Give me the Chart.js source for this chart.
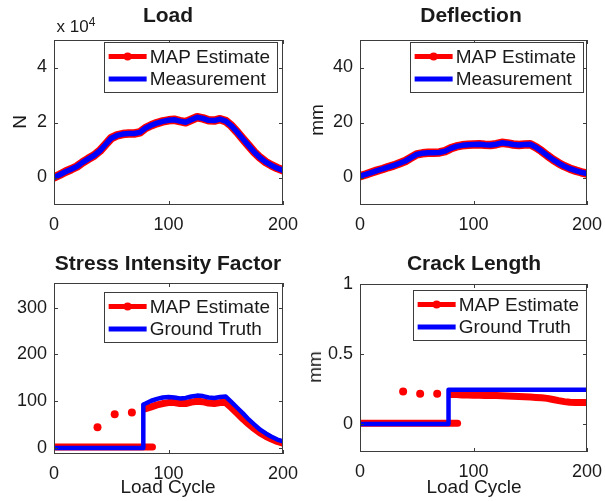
<!DOCTYPE html>
<html>
<head>
<meta charset="utf-8">
<script src="https://cdn.jsdelivr.net/npm/chart.js@4.4.1/dist/chart.umd.min.js"></script>
<style>
  body { margin: 0; background: #fff; }
  #wrap { position: relative; width: 605px; height: 501px; overflow: hidden;
          font-family: Arial, "Liberation Sans", sans-serif; color: #1a1a1a; }
  canvas { position: absolute; }
  .txt { position: absolute; transform: translate(-50%, -50%); white-space: nowrap; }
  .title { font-weight: bold; font-size: 21px; }
  .lab { font-size: 19px; }
  .rot { transform: translate(-50%, -50%) rotate(-90deg); }
</style>
</head>
<body>
<div id="wrap">
  <canvas id="cLoad" width="302" height="250" style="left:0;top:0"></canvas>
  <canvas id="cDefl" width="303" height="250" style="left:302px;top:0"></canvas>
  <canvas id="cSif" width="302" height="251" style="left:0;top:250px"></canvas>
  <canvas id="cCrack" width="303" height="251" style="left:302px;top:250px"></canvas>

  <div class="txt title" style="left:168px;top:15px">Load</div>
  <div class="txt title" style="left:471px;top:15px">Deflection</div>
  <div class="txt title" style="left:168px;top:263px">Stress Intensity Factor</div>
  <div class="txt title" style="left:474px;top:263px">Crack Length</div>

  <div class="txt lab rot" style="left:20px;top:122px">N</div>
  <div class="txt lab rot" style="left:317px;top:120px">mm</div>
  <div class="txt lab rot" style="left:315px;top:367px">mm</div>

  <div class="txt lab" style="left:168px;top:487px">Load Cycle</div>
  <div class="txt lab" style="left:474px;top:487px">Load Cycle</div>

  <div class="txt" style="left:76px;top:26px;font-size:17px">x 10<sup style="font-size:12px">4</sup></div>
</div>

<script>
// ================= DATA =================
const cycles = [0, 5, 10, 15, 20, 25, 30, 35, 40, 45, 50, 55, 60, 65, 70, 75, 80, 85, 90, 95, 100,
  105, 110, 115, 120, 125, 130, 135, 140, 145, 150, 155, 160, 165, 170, 175, 180, 185, 190, 195, 200];

// load in N
const loadMap = [0, 1000, 2100, 3000, 4000, 5500, 6800, 8000, 9700, 12000, 14300, 15300, 15800, 16000,
  16000, 16400, 18000, 19000, 19800, 20400, 20800, 21000, 20500, 20100, 21000, 21900, 21500, 20800,
  20700, 21200, 20500, 18800, 16500, 14000, 11600, 9200, 7200, 5600, 4400, 3400, 2600];
const loadMeasured = [0, 1000, 2100, 3000, 4000, 5500, 6800, 8000, 9700, 12000, 14300, 15300, 15800, 16000,
  16000, 16400, 18000, 19000, 19800, 20400, 20800, 21000, 20500, 20100, 21000, 21900, 21500, 20800,
  20700, 21200, 20500, 18800, 16500, 14000, 11600, 9200, 7200, 5600, 4400, 3400, 2600];

// deflection in mm
const deflMap = [0.5, 1.1, 1.8, 2.5, 3.1, 3.8, 4.4, 5.2, 6.0, 7.2, 8.4, 8.8, 9.0, 9.0, 9.1, 9.6, 10.6,
  11.3, 11.7, 11.9, 12.0, 12.1, 11.9, 11.8, 12.1, 12.6, 12.4, 12.0, 11.8, 12.0, 12.1, 11.0, 9.6, 8.0,
  6.5, 5.2, 4.1, 3.2, 2.5, 1.9, 1.4];
const deflMeasured = [0.5, 1.1, 1.8, 2.5, 3.1, 3.8, 4.4, 5.2, 6.0, 7.2, 8.4, 8.8, 9.0, 9.0, 9.1, 9.6, 10.6,
  11.3, 11.7, 11.9, 12.0, 12.1, 11.9, 11.8, 12.1, 12.6, 12.4, 12.0, 11.8, 12.0, 12.1, 11.0, 9.6, 8.0,
  6.5, 5.2, 4.1, 3.2, 2.5, 1.9, 1.4];

// after crack initiation
const lateCycles = [80, 85, 90, 95, 100, 105, 110, 115, 120, 125, 130, 135, 140, 145, 150, 155, 160,
  165, 170, 175, 180, 185, 190, 195, 200];

const sifTruthCycles = [0, 78, 78].concat(lateCycles);
const sifTruth = [0, 0, 93, 95, 101, 105, 108, 109, 108, 106, 107, 110, 112, 111, 108, 107, 109, 110,
  98, 86, 74, 61, 50, 39, 31, 24, 18, 14];
const sifMap = [84, 88, 92, 95, 97, 97, 95, 95, 98, 100, 99, 96, 95, 97, 97, 86, 74, 62, 51, 41, 32,
  25, 19, 14, 10];

const crackTruthCycles = [0, 78, 78, 200];
const crackTruth = [0, 0, 0.245, 0.245];
const crackMap = [0.21, 0.21, 0.208, 0.207, 0.206, 0.205, 0.204, 0.204, 0.203, 0.202, 0.2, 0.198,
  0.196, 0.194, 0.192, 0.19, 0.187, 0.183, 0.175, 0.167, 0.16, 0.155, 0.153, 0.153, 0.153];

// MAP estimate before initiation: flat zero branch + a few jumps
const mapZeroCycles = [0, 86];
const sifMapZero = [2, 2];
const crackMapZero = [0.005, 0.005];
const outlierCycles = [38, 53, 68];
const sifOutliers = [44, 72, 76];
const crackOutliers = [0.232, 0.216, 0.216];

const xTicks = [0, 100, 200];

const RED = "#ff0000";
const BLUE = "#0000ff";
const FONT = 'Arial, "Liberation Sans", sans-serif';

// ================= UTIL =================
function pts(xs, ys) {
  return xs.map((x, i) => ({ x, y: ys[i] }));
}

function line(data, color, width, order) {
  return {
    data, borderColor: color, backgroundColor: color, borderWidth: width,
    pointRadius: 0, borderCapStyle: "round", borderJoinStyle: "round", tension: 0, order
  };
}

function dots(data, color) {
  return {
    data, showLine: false, pointRadius: 4, pointBorderWidth: 0,
    pointBackgroundColor: color, borderColor: color, backgroundColor: color, order: 3
  };
}

// axes box, inward ticks and boxed legend, the matlab way
const matlabAxes = {
  id: "matlabAxes",
  afterDatasetsDraw(chart, args, opt) {
    const { ctx, chartArea: a, scales: { x, y } } = chart;
    ctx.save();
    ctx.strokeStyle = "#3c3c3c";
    ctx.lineWidth = 1;
    ctx.strokeRect(a.left + 0.5, a.top + 0.5, a.width - 1, a.height - 1);

    const T = 4;
    ctx.beginPath();
    x.ticks.forEach(t => {
      const px = Math.round(x.getPixelForValue(t.value)) + 0.5;
      ctx.moveTo(px, a.bottom); ctx.lineTo(px, a.bottom - T);
      ctx.moveTo(px, a.top); ctx.lineTo(px, a.top + T);
    });
    y.ticks.forEach(t => {
      const py = Math.round(y.getPixelForValue(t.value)) + 0.5;
      ctx.moveTo(a.left, py); ctx.lineTo(a.left + T, py);
      ctx.moveTo(a.right, py); ctx.lineTo(a.right - T, py);
    });
    ctx.stroke();

    // legend
    ctx.font = "19px " + FONT;
    const items = opt.items;
    const tw = Math.max(...items.map(i => ctx.measureText(i.label).width));
    const w = 45 + tw + 8;
    const h = 50;
    const left = a.right - opt.right - w;
    const top = a.top + opt.top;
    ctx.fillStyle = "#fff";
    ctx.fillRect(left, top, w, h);
    ctx.strokeRect(Math.round(left) + 0.5, top + 0.5, Math.round(w), h);

    items.forEach((it, i) => {
      const cy = top + 14.5 + i * 22.5;
      ctx.strokeStyle = it.color;
      ctx.lineWidth = 5;
      ctx.beginPath();
      ctx.moveTo(left + 5, cy); ctx.lineTo(left + 43, cy);
      ctx.stroke();
      if (it.marker) {
        ctx.fillStyle = it.color;
        ctx.beginPath();
        ctx.arc(left + 24, cy, 4, 0, Math.PI * 2);
        ctx.fill();
      }
      ctx.fillStyle = "#1a1a1a";
      ctx.textBaseline = "middle";
      ctx.fillText(it.label, left + 46, cy + 1);
    });
    ctx.restore();
  }
};

function makeChart(id, cfg) {
  const ctx = document.getElementById(id).getContext("2d");
  return new Chart(ctx, {
    type: "line",
    data: { datasets: cfg.datasets },
    options: {
      responsive: false,
      animation: false,
      events: [],
      layout: { padding: { left: 0, right: cfg.right, top: cfg.top, bottom: 0 } },
      plugins: {
        legend: { display: false },
        tooltip: { enabled: false },
        matlabAxes: { items: cfg.legend, top: cfg.legendTop, right: cfg.legendRight }
      },
      scales: {
        x: {
          type: "linear", min: 0, max: 200,
          // tickLength only pushes the labels down, the grid itself is not drawn
          grid: { display: false, drawTicks: true, tickLength: 9 }, border: { display: false },
          afterBuildTicks: s => { s.ticks = xTicks.map(v => ({ value: v })); },
          afterFit: s => { s.height = cfg.xHeight; },
          ticks: { padding: 0, color: "#1a1a1a", font: { size: 18, family: FONT }, maxRotation: 0 }
        },
        y: {
          type: "linear", min: cfg.yMin, max: cfg.yMax,
          grid: { display: false, drawTicks: false }, border: { display: false },
          afterBuildTicks: s => { s.ticks = cfg.yTicks.map(v => ({ value: v })); },
          afterFit: s => { s.width = cfg.yWidth; },
          ticks: { padding: 7, color: "#1a1a1a", font: { size: 18, family: FONT }, callback: cfg.fmt }
        }
      }
    },
    plugins: [matlabAxes]
  });
}

// ================= CHARTS =================
makeChart("cLoad", {
  yMin: -10000, yMax: 50000, yTicks: [0, 20000, 40000], fmt: v => String(v / 10000),
  yWidth: 54, right: 19, top: 40, xHeight: 45, legendTop: 2, legendRight: 6,
  legend: [{ label: "MAP Estimate", color: RED, marker: true }, { label: "Measurement", color: BLUE }],
  datasets: [
    line(pts(cycles, loadMeasured), BLUE, 5.5, 0),
    line(pts(cycles, loadMap), RED, 8.5, 1)
  ]
});

makeChart("cDefl", {
  yMin: -10, yMax: 50, yTicks: [0, 20, 40], fmt: v => String(v),
  yWidth: 58, right: 18, top: 40, xHeight: 45, legendTop: 2, legendRight: 4,
  legend: [{ label: "MAP Estimate", color: RED, marker: true }, { label: "Measurement", color: BLUE }],
  datasets: [
    line(pts(cycles, deflMeasured), BLUE, 5.5, 0),
    line(pts(cycles, deflMap), RED, 8.5, 1)
  ]
});

makeChart("cSif", {
  yMin: -13, yMax: 353, yTicks: [0, 100, 200, 300], fmt: v => String(v),
  yWidth: 54, right: 19, top: 33, xHeight: 47, legendTop: 9, legendRight: 6,
  legend: [{ label: "MAP Estimate", color: RED, marker: true }, { label: "Ground Truth", color: BLUE }],
  datasets: [
    line(pts(sifTruthCycles, sifTruth), BLUE, 4.5, 0),
    line(pts(lateCycles, sifMap), RED, 7, 1),
    line(pts(mapZeroCycles, sifMapZero), RED, 7, 2),
    dots(pts(outlierCycles, sifOutliers), RED)
  ]
});

makeChart("cCrack", {
  yMin: -0.2, yMax: 1, yTicks: [0, 0.5, 1], fmt: v => String(v),
  yWidth: 58, right: 18, top: 34, xHeight: 49, legendTop: 6, legendRight: 1,
  legend: [{ label: "MAP Estimate", color: RED, marker: true }, { label: "Ground Truth", color: BLUE }],
  datasets: [
    line(pts(crackTruthCycles, crackTruth), BLUE, 4.5, 0),
    line(pts(lateCycles, crackMap), RED, 7, 1),
    line(pts(mapZeroCycles, crackMapZero), RED, 7, 2),
    dots(pts(outlierCycles, crackOutliers), RED)
  ]
});
</script>
</body>
</html>
